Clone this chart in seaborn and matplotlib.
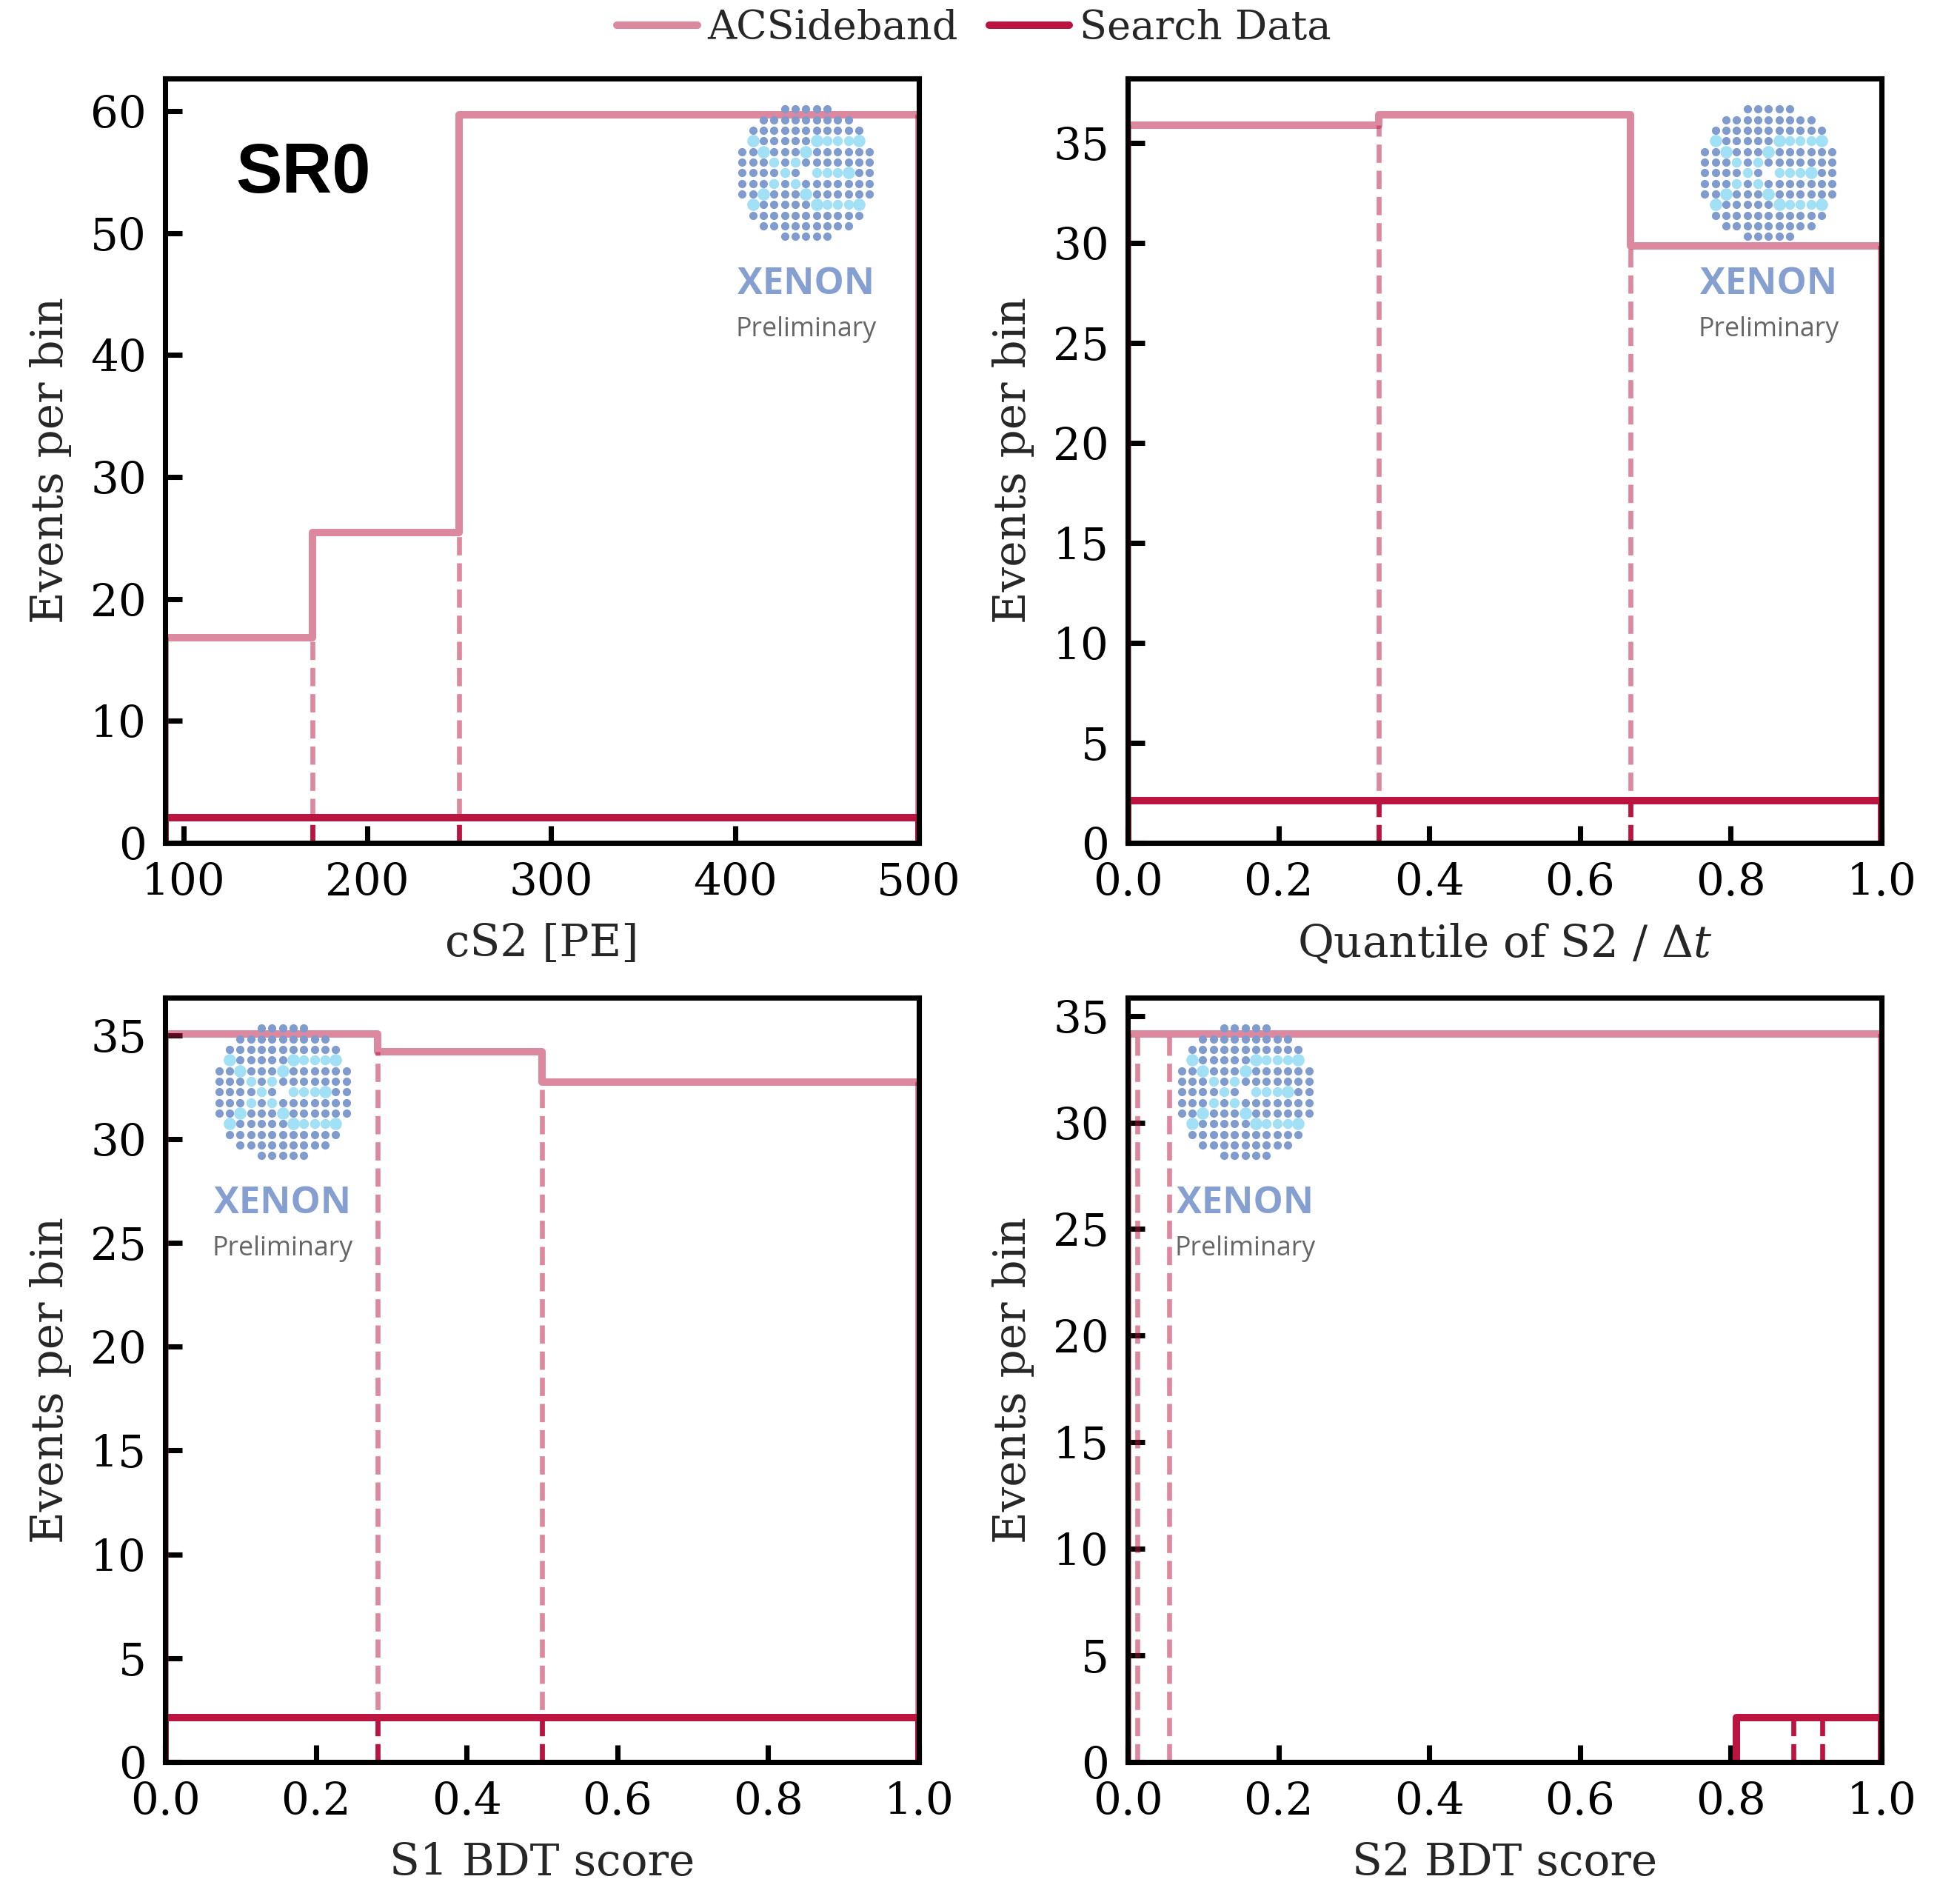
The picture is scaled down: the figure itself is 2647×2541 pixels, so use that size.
import numpy as np
import pandas as pd
import matplotlib
matplotlib.use("Agg")
import matplotlib.pyplot as plt
import seaborn as sns

# ---------------- data ----------------
cs2_edges = [90, 170, 250, 500]
cs2_sideband = [16.85, 25.45, 59.7]
cs2_search = [2.05, 2.05, 2.05]

q_edges = [0.0, 1 / 3, 2 / 3, 1.0]
q_sideband = [35.9, 36.4, 29.85]
q_search = [2.1, 2.1, 2.1]

s1_edges = [0.0, 0.282, 0.5, 1.0]
s1_sideband = [35.05, 34.2, 32.75]
s1_search = [2.15, 2.15, 2.15]

s2_sideband_edges = [0.0, 0.013, 0.055, 1.0]
s2_sideband = [34.15, 34.15, 34.15]
s2_search_edges = [0.807, 0.883, 0.921, 1.0]
s2_search = [2.1, 2.1, 2.1]

xlabels = ["cS2 [PE]", r"Quantile of S2 / $\Delta t$", "S1 BDT score", "S2 BDT score"]
ylabel = "Events per bin"
legend_labels = ["ACSideband", "Search Data"]
cs2_xticks = [100, 200, 300, 400, 500]
unit_xticks = [0.0, 0.2, 0.4, 0.6, 0.8, 1.0]
cs2_yticks = [0, 10, 20, 30, 40, 50, 60]
other_yticks = [0, 5, 10, 15, 20, 25, 30, 35]

CRIMSON = "#bb1440"
SIDE_ALPHA = 0.5
LW = 2.4

sns.set_theme(style="ticks")
plt.rcParams.update({
    "font.family": ["DejaVu Serif"],
    "mathtext.fontset": "dejavuserif",
    "font.size": 14.3,
    "axes.linewidth": 1.7,
    "xtick.direction": "in",
    "ytick.direction": "in",
    "xtick.major.size": 5.5,
    "ytick.major.size": 5.5,
    "xtick.major.width": 1.7,
    "ytick.major.width": 1.7,
    "xtick.major.pad": 6,
    "ytick.major.pad": 6,
    "xtick.labelsize": 14.3,
    "ytick.labelsize": 14.3,
    "axes.labelsize": 14.3,
    "axes.edgecolor": "black",
    "xtick.color": "black",
    "ytick.color": "black",
})

W, H = 2647, 2541
DPI = 300
fig = plt.figure(figsize=(W / DPI, H / DPI), dpi=DPI)

col_left = [223 / W, 1523 / W]
ax_w = 1018 / W
row_bottom = [1 - 1138 / H, 1 - 2379 / H]
ax_h = 1032 / H

axes = []
for r in range(2):
    for c in range(2):
        axes.append(fig.add_axes([col_left[c], row_bottom[r], ax_w, ax_h]))


def draw_hist(ax, edges, values, alpha, label):
    edges = [float(e) for e in edges]
    values = [float(v) for v in values]
    centers = [0.5 * (a + b) for a, b in zip(edges[:-1], edges[1:])]
    df = pd.DataFrame({"x": centers, "w": values})
    sns.histplot(data=df, x="x", weights="w", bins=edges, element="step", fill=False,
                 color=CRIMSON, alpha=alpha, linewidth=LW, ax=ax, label=label)
    # outer edges of the step outline, down to zero
    ax.vlines([edges[0], edges[-1]], 0, [values[0], values[-1]], colors=CRIMSON,
              alpha=alpha, linewidth=LW)
    # inner bin edges, dashed up to the lower neighbour
    inner = edges[1:-1]
    tops = np.minimum(values[:-1], values[1:])
    ax.vlines(inner, 0, tops, colors=CRIMSON, alpha=alpha, linestyles="--", linewidth=1.6)


def add_logo(ax, cx, cy):
    w = 13 * 14.33 / 1018
    h = 13 * 14.33 / 1032
    ins = ax.inset_axes([cx - w / 2, cy - h / 2, w, h])
    ins.set_xlim(-6.5, 6.5)
    ins.set_ylim(-6.5, 6.5)
    ins.axis("off")
    ins.patch.set_alpha(0)
    spans = {0: (4, 8), 1: (2, 10), 2: (1, 11), 3: (1, 11), 4: (0, 12), 5: (0, 12),
             6: (0, 12), 7: (0, 12), 8: (0, 12), 9: (1, 11), 10: (1, 11), 11: (2, 10), 12: (4, 8)}
    large = {(3, 1), (3, 7), (3, 11), (4, 2), (4, 6), (8, 2), (8, 6), (9, 1), (9, 7), (9, 11), (6, 10)}
    light = {(3, 8), (3, 9), (3, 10), (5, 3), (5, 5), (6, 4), (6, 7), (6, 8), (6, 9),
             (7, 3), (7, 5), (9, 8), (9, 9), (9, 10)}
    gap = {(6, 6)}
    dx, dy, lx, ly, Lx, Ly = [], [], [], [], [], []
    for r, (a, b) in spans.items():
        for k in range(a, b + 1):
            x, y = k - 6, 6 - r
            if (r, k) in gap:
                continue
            if (r, k) in large:
                Lx.append(x); Ly.append(y)
            elif (r, k) in light:
                lx.append(x); ly.append(y)
            else:
                dx.append(x); dy.append(y)
    ins.scatter(dx, dy, s=7.2, color="#809bcd", linewidths=0)
    ins.scatter(lx, ly, s=10.5, color="#a2e0f6", linewidths=0)
    ins.scatter(Lx, Ly, s=16, color="#a2e0f6", linewidths=0)
    ax.text(cx, 0.718, "XENON", transform=ax.transAxes, ha="center", va="baseline",
            fontsize=12.2, fontweight="bold", family=["Open Sans", "DejaVu Sans"], color="#849fd0")
    ax.text(cx, 0.663, "Preliminary", transform=ax.transAxes, ha="center", va="baseline",
            fontsize=8.6, family=["Open Sans", "DejaVu Sans"], color="#666666")


panels = [
    (cs2_edges, cs2_sideband, cs2_edges, cs2_search, cs2_xticks, cs2_yticks, 0.85),
    (q_edges, q_sideband, q_edges, q_search, unit_xticks, other_yticks, 0.85),
    (s1_edges, s1_sideband, s1_edges, s1_search, unit_xticks, other_yticks, 0.156),
    (s2_sideband_edges, s2_sideband, s2_search_edges, s2_search, unit_xticks, other_yticks, 0.156),
]

for i, (ax, (se, sv, de, dv, xt, yt, lx)) in enumerate(zip(axes, panels)):
    draw_hist(ax, se, sv, SIDE_ALPHA, legend_labels[0])
    draw_hist(ax, de, dv, 1.0, legend_labels[1])
    ax.set_xlim(se[0], se[-1])
    ax.set_ylim(0, 1.05 * max(sv))
    ax.set_xticks(xt)
    ax.set_yticks(yt)
    if xt is unit_xticks:
        ax.set_xticklabels([f"{v:.1f}" for v in xt])
    ax.set_xlabel(xlabels[i], labelpad=5.8)
    ax.set_ylabel(ylabel, labelpad=6)
    for s in ax.spines.values():
        s.set_visible(True)
        s.set_linewidth(1.7)
        s.set_zorder(5)
    ax.tick_params(top=False, right=False)
    add_logo(ax, lx, 0.8765)

axes[0].text(0.183, 0.851, "SR0", transform=axes[0].transAxes, ha="center", va="baseline",
             fontsize=22.5, fontweight="bold", family=["Liberation Sans", "DejaVu Sans"], color="black")

handles, labels = axes[0].get_legend_handles_labels()
uniq = {}
for h_, l_ in zip(handles, labels):
    if l_ in legend_labels and l_ not in uniq:
        uniq[l_] = h_
fig.legend([uniq[l] for l in legend_labels], legend_labels, loc="center",
           bbox_to_anchor=(0.497, 1 - 38 / H), ncol=2, frameon=False,
           handlelength=2.0, handletextpad=0.25, columnspacing=0.78, fontsize=13)

fig.savefig("out.png", dpi=DPI)
